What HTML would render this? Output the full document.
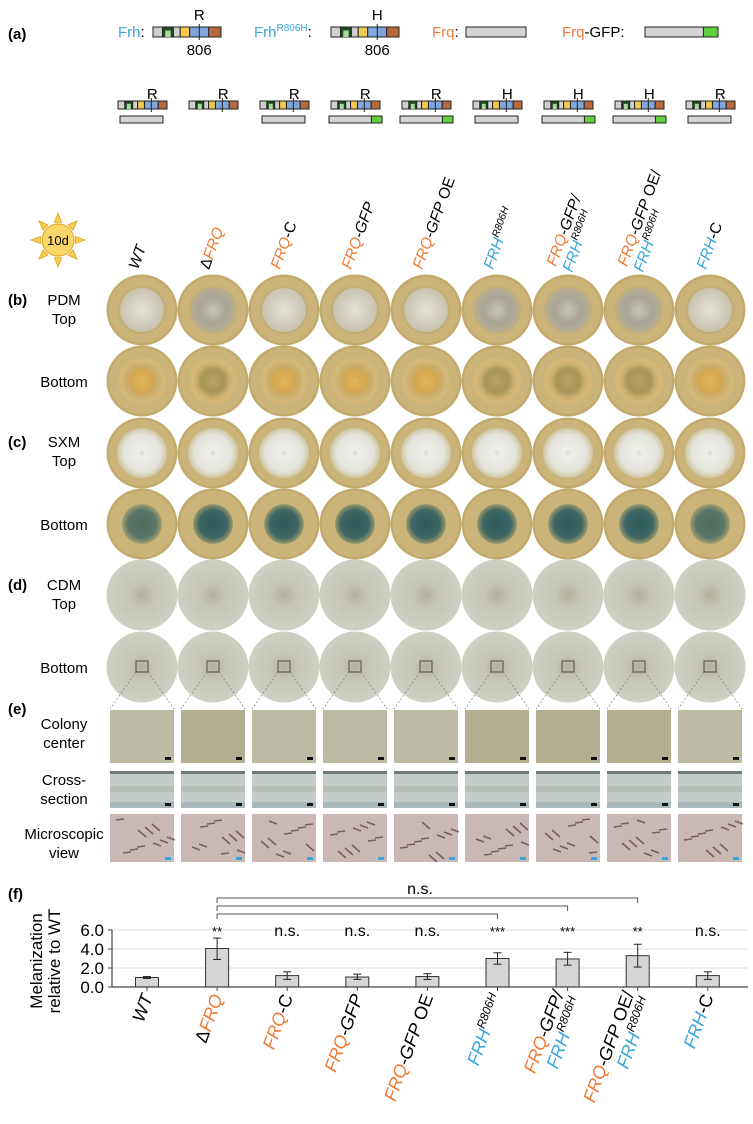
<!DOCTYPE html>
<html><head><meta charset="utf-8">
<style>
html,body{margin:0;padding:0;background:#fff;}
svg{display:block;font-family:"Liberation Sans",sans-serif;}
</style></head>
<body>
<svg id="fig" width="753" height="1124" viewBox="0 0 753 1124" xmlns="http://www.w3.org/2000/svg">
<defs>
  <radialGradient id="gPdmTop"><stop offset="0" stop-color="#e4e0d2"/><stop offset="0.55" stop-color="#d4d0c2"/><stop offset="1" stop-color="#c9c3ad"/></radialGradient>
  <radialGradient id="gPdmTopDk"><stop offset="0" stop-color="#c8c4b4"/><stop offset="0.6" stop-color="#a9a595"/><stop offset="1" stop-color="#b6ae94"/></radialGradient>
  <radialGradient id="gPdmBot"><stop offset="0" stop-color="#e0b55a"/><stop offset="0.7" stop-color="#d4a650"/><stop offset="1" stop-color="#c9ad70"/></radialGradient>
  <radialGradient id="gPdmBotDk"><stop offset="0" stop-color="#b7a268"/><stop offset="0.7" stop-color="#a99556"/><stop offset="1" stop-color="#bda870"/></radialGradient>
  <radialGradient id="gSxmTop"><stop offset="0" stop-color="#d8dad4"/><stop offset="0.15" stop-color="#eeeeea"/><stop offset="0.75" stop-color="#e4e4dc"/><stop offset="1" stop-color="#cfc5a0"/></radialGradient>
  <radialGradient id="gSxmBot"><stop offset="0" stop-color="#2f5a58"/><stop offset="0.7" stop-color="#3d6664"/><stop offset="1" stop-color="#9a9a6c"/></radialGradient>
  <radialGradient id="gCdm"><stop offset="0" stop-color="#b3b09a"/><stop offset="0.35" stop-color="#c5c5b5"/><stop offset="1" stop-color="#cfd0c4"/></radialGradient>
</defs>
<g id="root"></g>
</svg>
<script>
const NS='http://www.w3.org/2000/svg';
const root=document.getElementById('root');
function el(tag,attrs,parent,txt){const e=document.createElementNS(NS,tag);for(const k in attrs)e.setAttribute(k,attrs[k]);if(txt!==undefined)e.textContent=txt;(parent||root).appendChild(e);return e;}

// ---------- data ----------
const strains=['WT','ΔFRQ','FRQ-C','FRQ-GFP','FRQ-GFP OE','FRH R806H','FRQ-GFP/FRH R806H','FRQ-GFP OE/FRH R806H','FRH-C'];
const melanization=[1.0,4.05,1.2,1.05,1.1,3.0,2.95,3.3,1.2];
const errLow=[0.9,2.9,0.8,0.8,0.8,2.4,2.3,2.1,0.8];
const errHigh=[1.1,5.15,1.6,1.35,1.4,3.6,3.65,4.5,1.6];
const sigLabels=['','**','n.s.','n.s.','n.s.','***','***','**','n.s.'];
const yTicks=[0,2,4,6];
const yTickLabels=['0.0','2.0','4.0','6.0'];
const frhAllele=['R','R','R','R','R','H','H','H','R'];
const frqType=['frq','none','frq','gfp','gfp','frq','gfp','gfp','frq'];
const darkPdm=[false,true,false,false,false,true,true,true,false];

const colX=i=>142+71*i;
const BLUE='#3aa6dc', ORANGE='#f07a32';

// ---------- (a) ----------
let t=el('text',{x:8,y:39,'font-size':15,'font-weight':'bold'},root,'(a)');


function frhBox(x,y,w,h,name){
  const g=el('g',{});
  
  const segs=[[0,0.14,'#cfcfcf'],[0.14,0.16,'#1f4a1f'],[0.30,0.1,'#d0d0d0'],[0.40,0.14,'#f2c94c'],[0.54,0.28,'#7ea6dc'],[0.82,0.18,'#b86a3c']];
  segs.forEach(s=>el('rect',{x:x+s[0]*w,y:y,width:s[1]*w,height:h,fill:s[2],stroke:'#222','stroke-width':1},g));
  el('rect',{x:x+0.18*w,y:y+h*0.35,width:0.08*w,height:h*0.65,fill:'#a8d8a0'},g);
  el('line',{x1:x+0.68*w,y1:y-3,x2:x+0.68*w,y2:y+h+3,stroke:'#222','stroke-width':1},g);
  return x+0.68*w;
}
function frqBar(x,y,w,h,gfp,name){
  const g=el('g',{});
  
  el('rect',{x:x,y:y,width:w,height:h,fill:'#d4d4d4',stroke:'#222','stroke-width':1},g);
  if(gfp) el('rect',{x:x+w-w*0.2,y:y,width:w*0.2,height:h,fill:'#5fcf3a',stroke:'#222','stroke-width':1},g);
}
// legend row
let tx=el('text',{x:118,y:37,'font-size':15},root);
el('tspan',{fill:BLUE},tx,'Frh');el('tspan',{},tx,':');
let m=frhBox(153,27,68,10,'frh-diagram');
el('text',{x:m,y:20,'font-size':15,'text-anchor':'middle'},root,'R');
el('text',{x:m,y:55,'font-size':15,'text-anchor':'middle'},root,'806');
tx=el('text',{x:254,y:37,'font-size':15},root);
el('tspan',{fill:BLUE},tx,'Frh');el('tspan',{fill:BLUE,'font-size':10,dy:-6},tx,'R806H');el('tspan',{dy:6},tx,':');
m=frhBox(331,27,68,10,'frh-r806h-diagram');
el('text',{x:m,y:20,'font-size':15,'text-anchor':'middle'},root,'H');
el('text',{x:m,y:55,'font-size':15,'text-anchor':'middle'},root,'806');
tx=el('text',{x:432,y:37,'font-size':15},root);
el('tspan',{fill:ORANGE},tx,'Frq');el('tspan',{},tx,':');
frqBar(466,27,60,10,false,'frq-diagram');
tx=el('text',{x:562,y:37,'font-size':15},root);
el('tspan',{fill:ORANGE},tx,'Frq');el('tspan',{},tx,'-GFP:');
frqBar(645,27,73,10,true,'frq-gfp-diagram');
// construct row
for(let i=0;i<9;i++){
  const x=colX(i);
  const mm=frhBox(x-24,101,49,8,'construct-frh-'+(i+1));
  const lt=el('text',{x:mm+1,y:99,'font-size':15,'text-anchor':'middle'},root,frhAllele[i]);
  
  
  if(frqType[i]==='frq') frqBar(x-22,116,43,7,false,'construct-frq-'+(i+1));
  if(frqType[i]==='gfp') frqBar(x-26,116,53,7,true,'construct-frq-gfp-'+(i+1));
}

// ---------- sun ----------
const sun=el('g',{});

for(let k=0;k<8;k++){
  const a=k*Math.PI/4, cx=58, cy=240;
  const p=(r,d)=>[cx+r*Math.cos(a+d),cy+r*Math.sin(a+d)];
  const A=p(27,0),B=p(18,0.2),C=p(18,-0.2);
  el('polygon',{points:[A,B,C].map(q=>q.join(',')).join(' '),fill:'#f7cd4a',stroke:'#d9a520','stroke-width':0.8},sun);
}
el('circle',{cx:58,cy:240,r:16,fill:'#fad66a',stroke:'#d9a520','stroke-width':1},sun);
el('text',{x:58,y:245,'font-size':13,'text-anchor':'middle'},sun,'10d');

// ---------- rotated strain labels ----------
function strainLabel(i,x,y,name,anchor,fs){
  const g=el('g',{transform:`translate(${x},${y}) rotate(-70)`});
  
  const off=fs*0.55;
  const mk=(parts,dy)=>{const tt=el('text',{x:0,y:dy,'font-size':fs,'text-anchor':anchor,'font-style':'italic'},g);
    parts.forEach(p=>{const s=el('tspan',p[2]||{},tt,p[0]);if(p[1])s.setAttribute('fill',p[1]);});};
  const sup={'font-size':fs*0.66,dy:-fs*0.4};
  switch(i){
    case 0: mk([['WT']],0);break;
    case 1: mk([['Δ',null,{'font-style':'normal'}],['FRQ',ORANGE]],0);break;
    case 2: mk([['FRQ',ORANGE],['-C',null,{'font-style':'normal'}]],0);break;
    case 3: mk([['FRQ',ORANGE],['-GFP']],0);break;
    case 4: mk([['FRQ',ORANGE],['-GFP'],[' OE',null,{'font-style':'normal'}]],0);break;
    case 5: mk([['FRH',BLUE],['R806H',null,sup]],0);break;
    case 6: mk([['FRQ',ORANGE],['-GFP/']],-off);mk([['FRH',BLUE],['R806H',null,sup]],off);break;
    case 7: mk([['FRQ',ORANGE],['-GFP'],[' OE/',null,{'font-style':'normal'}]],-off);mk([['FRH',BLUE],['R806H',null,sup]],off);break;
    case 8: mk([['FRH',BLUE],['-C',null,{'font-style':'normal'}]],0);break;
  }
}
for(let i=0;i<9;i++){ strainLabel(i,colX(i)-4,270,'column-label-'+(i+1),'start',15.5); }

// ---------- row labels ----------
function rowLabel(lines,y,name,tag){
  const g=el('g',{});
  if(tag) el('text',{x:8,y:y,'font-size':15,'font-weight':'bold'},g,tag);
  lines.forEach((s,k)=>el('text',{x:64,y:y+k*19,'font-size':15,'text-anchor':'middle'},g,s));
}
rowLabel(['PDM','Top'],305,'pdm-top-label','(b)');
rowLabel(['Bottom'],387,'pdm-bottom-label');
rowLabel(['SXM','Top'],447,'sxm-top-label','(c)');
rowLabel(['Bottom'],530,'sxm-bottom-label');
rowLabel(['CDM','Top'],590,'cdm-top-label','(d)');
rowLabel(['Bottom'],673,'cdm-bottom-label');
rowLabel([],714,'panel-e-label','(e)');
rowLabel(['Colony','center'],729,'colony-center-label');
rowLabel(['Cross-','section'],785,'cross-section-label');
rowLabel(['Microscopic','view'],839,'microscopic-view-label');

// ---------- plates ----------
const rowsY=[310,381,453,524,595,667];
for(let i=0;i<9;i++){
  const x=colX(i);
  rowsY.forEach((y,r)=>{
    const g=el('g',{});
    
    
    if(r<4){
      el('circle',{cx:x,cy:y,r:35.5,fill:'#cbb47a'},g);
      el('circle',{cx:x,cy:y,r:34,fill:'none',stroke:'#c1a96c','stroke-width':2},g);
    } else {
      el('circle',{cx:x,cy:y,r:35.5,fill:'url(#gCdm)'},g);
    }
    if(r===0){ el('circle',{cx:x,cy:y,r:24,fill:'#c2ad76'},g); el('circle',{cx:x,cy:y,r:22,fill:darkPdm[i]?'url(#gPdmTopDk)':'url(#gPdmTop)'},g); }
    if(r===1){ el('circle',{cx:x,cy:y,r:24,fill:'#d3b87a'},g); el('circle',{cx:x,cy:y,r:19,fill:'#cbb070'},g); el('circle',{cx:x,cy:y,r:16,fill:darkPdm[i]?'url(#gPdmBotDk)':'url(#gPdmBot)'},g); }
    if(r===2){ el('circle',{cx:x,cy:y,r:25,fill:'url(#gSxmTop)'},g); }
    if(r===3){ el('circle',{cx:x,cy:y,r:20,fill:'url(#gSxmBot)',opacity:(i===0||i===8)?0.8:1},g); }
    if(r===5){ el('rect',{x:x-6,y:y-6,width:12,height:11,fill:'none',stroke:'#333','stroke-width':0.8},g); }
  });
}

// ---------- (e) images ----------
for(let i=0;i<9;i++){
  const x=colX(i), l=x-32, w=64;
  const z=el('g',{});
  el('line',{x1:x-6,y1:672,x2:l,y2:709,stroke:'#777','stroke-width':0.7,'stroke-dasharray':'2,2'},z);
  el('line',{x1:x+6,y1:672,x2:l+w,y2:709,stroke:'#777','stroke-width':0.7,'stroke-dasharray':'2,2'},z);
  let g=el('g',{});
  el('rect',{x:l,y:710,width:w,height:53,fill:darkPdm[i]?'#b3ad92':'#bdbba4'},g);
  el('rect',{x:l+w-9,y:757,width:6,height:3,fill:'#111'},g);
  g=el('g',{});
  el('rect',{x:l,y:771,width:w,height:37,fill:'#c3ccc8'},g);
  el('rect',{x:l,y:771,width:w,height:3,fill:'#6d7a76'},g);
  el('rect',{x:l,y:786,width:w,height:6,fill:'#b2bcb4',opacity:0.8},g);
  el('rect',{x:l,y:802,width:w,height:6,fill:'#a9b8bb'},g);
  el('rect',{x:l+w-9,y:803,width:6,height:3,fill:'#111'},g);
  g=el('g',{});
  el('rect',{x:l,y:814,width:w,height:48,fill:'#c9b8b4'},g);
  for(let k=0;k<10;k++){
    const sx=l+6+((k*37+i*13)%52), sy=820+((k*23+i*7)%36);
    el('line',{x1:sx,y1:sy,x2:sx+8,y2:sy+((k%3)-1)*4+3,stroke:'#6a4650','stroke-width':1.6,opacity:0.8},g);
  }
  el('rect',{x:l+w-9,y:857,width:6,height:3,fill:'#3aa6dc'},g);
}

// ---------- (f) chart ----------
t=el('text',{x:8,y:899,'font-size':15,'font-weight':'bold'},root,'(f)');

const y0=987, yScale=9.5;
const yOf=v=>y0-v*yScale;
const xOf=i=>147+70.1*i;
const chart=el('g',{});
yTicks.forEach((v,k)=>{
  if(v>0){const gl=el('line',{x1:112,y1:yOf(v),x2:748,y2:yOf(v),stroke:'#dcdcdc','stroke-width':1},chart);
    }
  const tl=el('text',{x:104,y:yOf(v)+6,'font-size':17,'text-anchor':'end'},chart,yTickLabels[k]);
  
  el('line',{x1:108,y1:yOf(v),x2:112,y2:yOf(v),stroke:'#444','stroke-width':1},chart);
});
let yt=el('text',{transform:'translate(42,961) rotate(-90)','font-size':17,'text-anchor':'middle'},chart,'Melanization');

yt=el('text',{transform:'translate(60,961) rotate(-90)','font-size':17,'text-anchor':'middle'},chart,'relative to WT');

melanization.forEach((v,i)=>{
  const x=xOf(i);
  const b=el('rect',{x:x-11.5,y:yOf(v),width:23,height:v*yScale,fill:'#d6d6d6',stroke:'#333','stroke-width':1},chart);
  
  const e=el('g',{},chart);
  el('line',{x1:x,y1:yOf(errLow[i]),x2:x,y2:yOf(errHigh[i]),stroke:'#222','stroke-width':1},e);
  el('line',{x1:x-4,y1:yOf(errLow[i]),x2:x+4,y2:yOf(errLow[i]),stroke:'#222','stroke-width':1},e);
  el('line',{x1:x-4,y1:yOf(errHigh[i]),x2:x+4,y2:yOf(errHigh[i]),stroke:'#222','stroke-width':1},e);
  el('line',{x1:x,y1:y0,x2:x,y2:y0+4,stroke:'#444','stroke-width':1},chart);
  if(sigLabels[i]){
    const s=el('text',{x:x,y:yOf(6)+6,'font-size':sigLabels[i].startsWith('*')?13:16,'text-anchor':'middle'},chart,sigLabels[i]);
    
  }
  strainLabel(i,xOf(i)+6,997,'x-axis-label-'+(i+1),'end',18);
});
el('line',{x1:112,y1:y0,x2:748,y2:y0,stroke:'#444','stroke-width':1.2},chart);
el('line',{x1:112,y1:yOf(6),x2:112,y2:y0,stroke:'#444','stroke-width':1.2},chart);
// brackets
const bracketTargets=[5,6,7];
const bracketY=[914,906,898];
bracketTargets.forEach((j,k)=>{
  const br=el('path',{d:`M${xOf(1)},${bracketY[k]+5} V${bracketY[k]} H${xOf(j)} V${bracketY[k]+5}`,fill:'none',stroke:'#555','stroke-width':1},chart);
  
});
const ns=el('text',{x:420,y:894,'font-size':16,'text-anchor':'middle'},chart,'n.s.');

</script>
</body></html>
